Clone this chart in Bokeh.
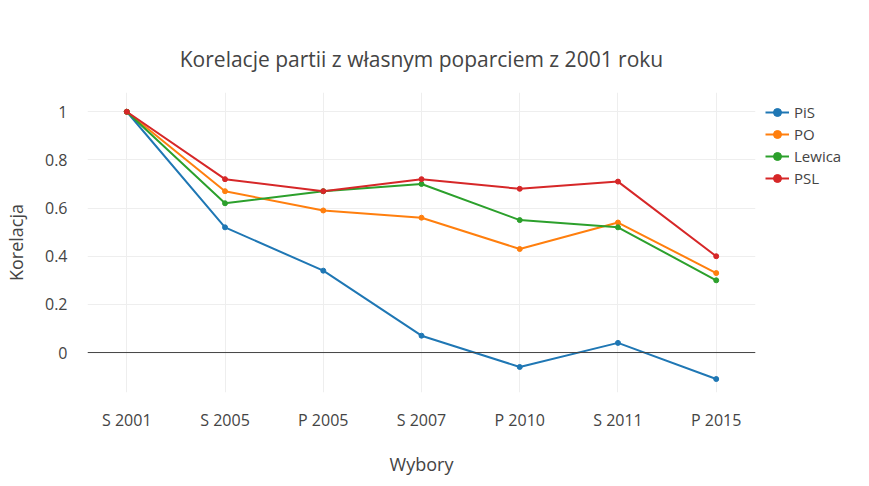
from bokeh.plotting import figure
from bokeh.models import Legend, Span, Range1d
from bokeh.embed import file_html
from bokeh.resources import INLINE

cats = ["S 2001", "S 2005", "P 2005", "S 2007", "P 2010", "S 2011", "P 2015"]
pis = [1, 0.52, 0.34, 0.07, -0.06, 0.04, -0.11]
po = [1, 0.67, 0.59, 0.56, 0.43, 0.54, 0.33]
lewica = [1, 0.62, 0.67, 0.70, 0.55, 0.52, 0.30]
psl = [1, 0.72, 0.67, 0.72, 0.68, 0.71, 0.40]
series = [("PiS", pis, "#1f77b4"), ("PO", po, "#ff7f0e"),
          ("Lewica", lewica, "#2ca02c"), ("PSL", psl, "#d62728")]

xs = list(range(len(cats)))
p = figure(frame_width=668, frame_height=300, output_backend="svg", toolbar_location=None,
           x_range=Range1d(-0.4, 6.4), y_range=Range1d(-0.166, 1.08),
           min_border_left=72, min_border_top=92, min_border_bottom=78, min_border_right=10,
           title="Korelacje partii z własnym poparciem z 2001 roku")
p.title.align = "center"
p.title.text_font = "Open Sans"
p.title.text_font_size = "21px"
p.title.text_font_style = "normal"
p.title.text_color = "#444444"
p.title.standoff = 40
p.outline_line_color = None

items = []
for name, vals, col in series:
    r1 = p.line(xs, vals, line_color=col, line_width=2)
    r2 = p.scatter(xs, vals, fill_color=col, line_color=col, size=5)
    items.append((name, [r1, r2]))

p.add_layout(Span(location=0, dimension="width", line_color="#444444", line_width=1))

p.xaxis.ticker = xs
p.xaxis.major_label_overrides = {i: c for i, c in enumerate(cats)}
p.yaxis.ticker = [0, 0.2, 0.4, 0.6, 0.8, 1]
p.yaxis.major_label_overrides = {0: "0", 1: "1"}
for ax in (p.xaxis[0], p.yaxis[0]):
    ax.axis_line_color = None
    ax.major_tick_line_color = None
    ax.minor_tick_line_color = None
    ax.major_label_text_font = "Open Sans"
    ax.major_label_text_font_size = "16px"
    ax.major_label_text_color = "#444444"
    ax.axis_label_text_font = "Open Sans"
    ax.axis_label_text_font_size = "18px"
    ax.axis_label_text_font_style = "normal"
    ax.axis_label_text_color = "#444444"
p.xaxis.axis_label = "Wybory"
p.yaxis.axis_label = "Korelacja"
p.xaxis.major_label_standoff = 10
p.xaxis.axis_label_standoff = 18
p.yaxis.major_label_standoff = 14
p.yaxis.axis_label_standoff = 14
p.grid.grid_line_color = "#eeeeee"

leg = Legend(items=items, location="top_left", border_line_color=None,
             label_text_font="Open Sans", label_text_font_size="15px",
             label_text_color="#444444", glyph_width=24, spacing=2, padding=5, margin=10)
p.add_layout(leg, "right")

open("out.html", "w").write(file_html(p, INLINE))
